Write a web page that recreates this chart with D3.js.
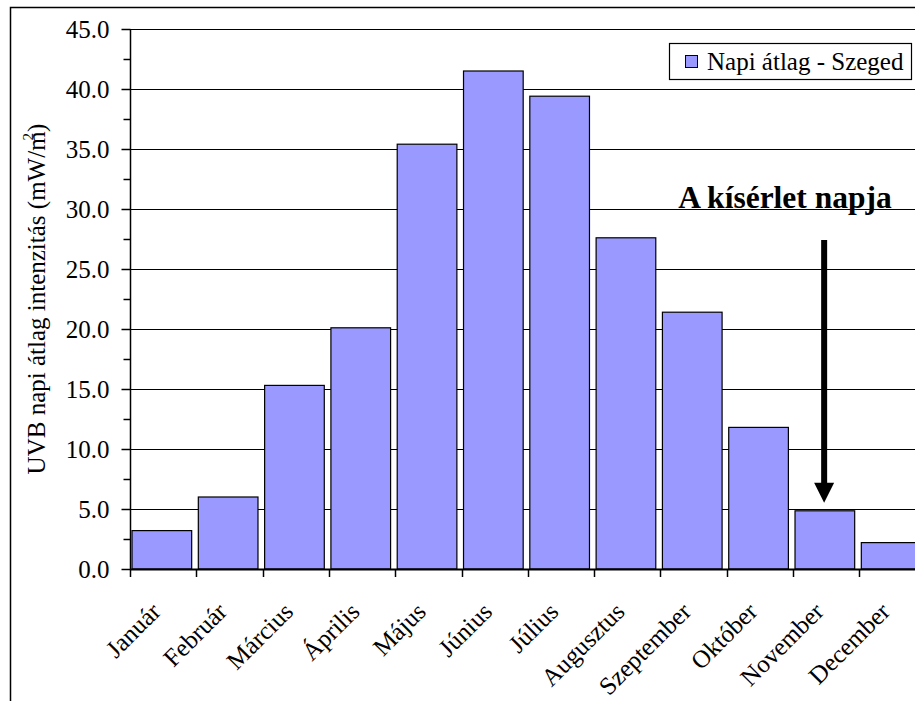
<!DOCTYPE html>
<html>
<head>
<meta charset="utf-8">
<script src="https://cdn.jsdelivr.net/npm/d3@7"></script>
<style>
  html, body { margin: 0; padding: 0; background: #fff; }
  svg { display: block; }
  text { font-family: "Liberation Serif", "Times New Roman", serif; fill: #000; }
</style>
</head>
<body>
<svg id="chart" width="915" height="701"></svg>
<script>
const months = ["Január","Február","Március","Április","Május","Június","Július","Augusztus","Szeptember","Október","November","December"];
const values = [3.2, 6.0, 15.3, 20.1, 35.4, 41.5, 39.4, 27.6, 21.4, 11.8, 4.85, 2.2];
const yTicks = [0, 5, 10, 15, 20, 25, 30, 35, 40, 45];
const yMinorTicks = [2.5, 7.5, 12.5, 17.5, 22.5, 27.5, 32.5, 37.5, 42.5];
const seriesName = "Napi átlag - Szeged";
const annotationText = "A kísérlet napja";
const annotationMonth = "November";

const svg = d3.select("#chart");
const W = 915, H = 701;
const pLeft = 130, pBottom = 569, pTop = 29;
const step = 66.3;

// outer chart border (right/bottom cut off like reference)
svg.append("rect").attr("x", 10.5).attr("y", 7.5).attr("width", 1000).attr("height", 1000)
  .attr("fill", "none").attr("stroke", "#000").attr("stroke-width", 1.5);

const x = d3.scaleBand().domain(months).range([pLeft, pLeft + step * months.length]).padding(0);
const y = d3.scaleLinear().domain([0, 45]).range([pBottom, pTop]);

// gridlines
svg.append("g").selectAll("line").data(yTicks.filter(d => d > 0)).join("line")
  .attr("x1", pLeft).attr("x2", W)
  .attr("y1", d => Math.round(y(d)) + 0.5).attr("y2", d => Math.round(y(d)) + 0.5)
  .attr("stroke", "#000").attr("stroke-width", 1);

// bars
const bw = x.bandwidth() * 0.9;
svg.append("g").selectAll("rect").data(values).join("rect")
  .attr("x", (d, i) => x(months[i]) + x.bandwidth() * 0.05 - 1.3)
  .attr("y", d => y(d))
  .attr("width", bw)
  .attr("height", d => pBottom - y(d))
  .attr("fill", "#9999FF").attr("stroke", "#000").attr("stroke-width", 1.2);

// y axis
const yAxis = d3.axisLeft(y).tickValues(yTicks).tickSize(9).tickPadding(12)
  .tickFormat(d3.format(".1f"));
const gy = svg.append("g").attr("transform", `translate(${pLeft + 0.5},0)`).call(yAxis);
gy.attr("font-family", null);
gy.select(".domain").remove();
gy.selectAll(".tick line").attr("stroke", "#000").attr("stroke-width", 1.5);
gy.selectAll(".tick text").attr("font-size", 25);
gy.append("line").attr("x1", 0).attr("x2", 0).attr("y1", pTop).attr("y2", pBottom)
  .attr("stroke", "#000").attr("stroke-width", 1.5);
const yMinor = d3.axisLeft(y).tickValues(yMinorTicks).tickSize(7).tickFormat("");
const gym = svg.append("g").attr("transform", `translate(${pLeft + 0.5},0)`).call(yMinor);
gym.select(".domain").remove();
gym.selectAll(".tick line").attr("stroke", "#000").attr("stroke-width", 1.5);

// x axis
svg.append("line").attr("x1", pLeft).attr("x2", W).attr("y1", pBottom + 0.5).attr("y2", pBottom + 0.5)
  .attr("stroke", "#000").attr("stroke-width", 2);
svg.append("g").selectAll("line").data(months).join("line")
  .attr("x1", d => Math.round(x(d)) + 0.5).attr("x2", d => Math.round(x(d)) + 0.5)
  .attr("y1", pBottom).attr("y2", pBottom + 8)
  .attr("stroke", "#000").attr("stroke-width", 1.5);
svg.append("g").selectAll("text").data(months).join("text")
  .attr("transform", d => `translate(${x(d) + x.bandwidth() / 2 - 1},${pBottom + 44}) rotate(-45)`)
  .attr("text-anchor", "end")
  .attr("font-size", 25)
  .text(d => d);

// y axis title
const title = svg.append("text")
  .attr("transform", `translate(45,${(pTop + pBottom) / 2}) rotate(-90)`)
  .attr("text-anchor", "middle").attr("font-size", 25);
title.append("tspan").text("UVB napi átlag intenzitás (mW/m");
title.append("tspan").attr("font-size", 15).attr("dx", -9).attr("dy", -12).text("2");
title.append("tspan").attr("dx", 1).attr("dy", 12).text(")");

// legend
const lg = svg.append("g");
lg.append("rect").attr("x", 669.5).attr("y", 43.5).attr("width", 242).attr("height", 36)
  .attr("fill", "#fff").attr("stroke", "#000").attr("stroke-width", 1.2);
lg.append("rect").attr("x", 685.5).attr("y", 55.5).attr("width", 12).attr("height", 12)
  .attr("fill", "#9999FF").attr("stroke", "#000").attr("stroke-width", 1);
lg.append("text").attr("x", 707).attr("y", 69.5).attr("font-size", 25).text(seriesName);

// annotation
svg.append("text").attr("x", 785).attr("y", 208).attr("text-anchor", "middle")
  .attr("font-size", 31.5).attr("font-weight", "bold").text(annotationText);
const ax = x(annotationMonth) + x.bandwidth() / 2 - 2;
const annVal = values[months.indexOf(annotationMonth)];
const tipY = y(annVal) - 8;
svg.append("line").attr("x1", ax).attr("x2", ax).attr("y1", 240).attr("y2", tipY - 18)
  .attr("stroke", "#000").attr("stroke-width", 6);
svg.append("path")
  .attr("d", `M${ax - 10},${tipY - 20} L${ax + 10},${tipY - 20} L${ax},${tipY} Z`)
  .attr("fill", "#000");
</script>
</body>
</html>
